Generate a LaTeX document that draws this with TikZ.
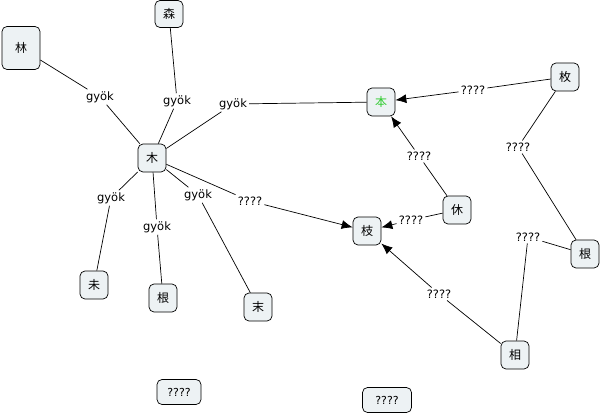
\documentclass[tikz,border=0pt]{standalone}
\usepackage{fontspec}
\setmainfont{DejaVu Sans}
\newfontfamily\jp{Noto Sans CJK JP}
\usetikzlibrary{arrows.meta}
\definecolor{conceptfill}{HTML}{EDF2F4}
\definecolor{hongreen}{HTML}{33CC33}

\begin{document}
\begin{tikzpicture}[x=1pt,y=-1pt]
			    \tikzstyle{concept}=[draw,rounded corners=5pt,fill=conceptfill,line width=.7pt,minimum width=28pt,minimum height=28pt,inner sep=2pt,font=\jp\fontsize{12}{14}\selectfont]
			    \tikzstyle{linklabel}=[inner sep=2pt,font=\fontsize{11.5}{13}\selectfont]
			    \tikzstyle{link}=[draw,line width = .7pt,-,black!100]
			    \tikzstyle{arrow}=[link,-{Latex[length=11pt,width=9pt]}]
			    \useasboundingbox (0,0) rectangle (601,414);
			    % concepts
			    \node[concept,minimum width=38pt,minimum height=43pt] (lin) at (21,48) {林};
			    \node[concept,minimum height=27pt] (mori) at (169,14) {森};
			    \node[concept] (ki) at (152,158) {木};
			    \node[concept,text=hongreen] (hon) at (381,102) {本};
			    \node[concept] (mai) at (565,77) {枚};
			    \node[concept] (kyu) at (457,210) {休};
			    \node[concept] (eda) at (367,231) {枝};
			    \node[concept] (neR) at (585,254) {根};
			    \node[concept] (sou) at (515,355) {相};
			    \node[concept] (mi) at (94,285) {未};
			    \node[concept] (neL) at (163,298) {根};
			    \node[concept] (matsu) at (258,307) {末};
			    \node[concept,font=\fontsize{11}{13}\selectfont,minimum width=44pt,minimum height=25pt] (qa) at (179,392) {????};
			    \node[concept,font=\fontsize{11}{13}\selectfont,minimum width=49pt,minimum height=25pt] (qb) at (387,400) {????};
			    % link labels
			    \node[linklabel] (l1) at (100,97) {gyök};
			    \node[linklabel] (l2) at (177,101) {gyök};
			    \node[linklabel] (l3) at (233,104) {gyök};
			    \node[linklabel] (l4) at (111,198) {gyök};
			    \node[linklabel] (l5) at (157,227) {gyök};
			    \node[linklabel] (l6) at (198,195) {gyök};
			    \node[linklabel] (l7) at (250,201) {????};
			    \node[linklabel] (l8) at (473,90) {????};
			    \node[linklabel] (l9) at (419,156) {????};
			    \node[linklabel] (l10) at (411,220) {????};
			    \node[linklabel] (l11) at (518,147) {????};
			    \node[linklabel] (l12) at (528,237) {????};
			    \node[linklabel] (l13) at (439,294) {????};
			    % links
			    \draw[link] (ki) -- (l1) -- (lin);
			    \draw[link] (ki) -- (l2) -- (mori);
			    \draw[link] (ki) -- (l3) -- (hon);
			    \draw[link] (ki) -- (l4) -- (mi);
			    \draw[link] (ki) -- (l5) -- (neL);
			    \draw[link] (ki) -- (l6) -- (matsu);
			    \draw[link] (ki) -- (l7);
			    \draw[arrow] (l7) -- (eda);
			    \draw[link] (mai) -- (l8);
			    \draw[arrow] (l8) -- (hon);
			    \draw[link] (kyu) -- (l9);
			    \draw[arrow] (l9) -- (hon);
			    \draw[link] (kyu) -- (l10);
			    \draw[arrow] (l10) -- (eda);
			    \draw[link] (mai) -- (l11) -- (neR);
			    \draw[link] (neR) -- (l12) -- (sou);
			    \draw[link] (sou) -- (l13);
			    \draw[arrow] (l13) -- (eda);
			\end{tikzpicture}
\end{document}
